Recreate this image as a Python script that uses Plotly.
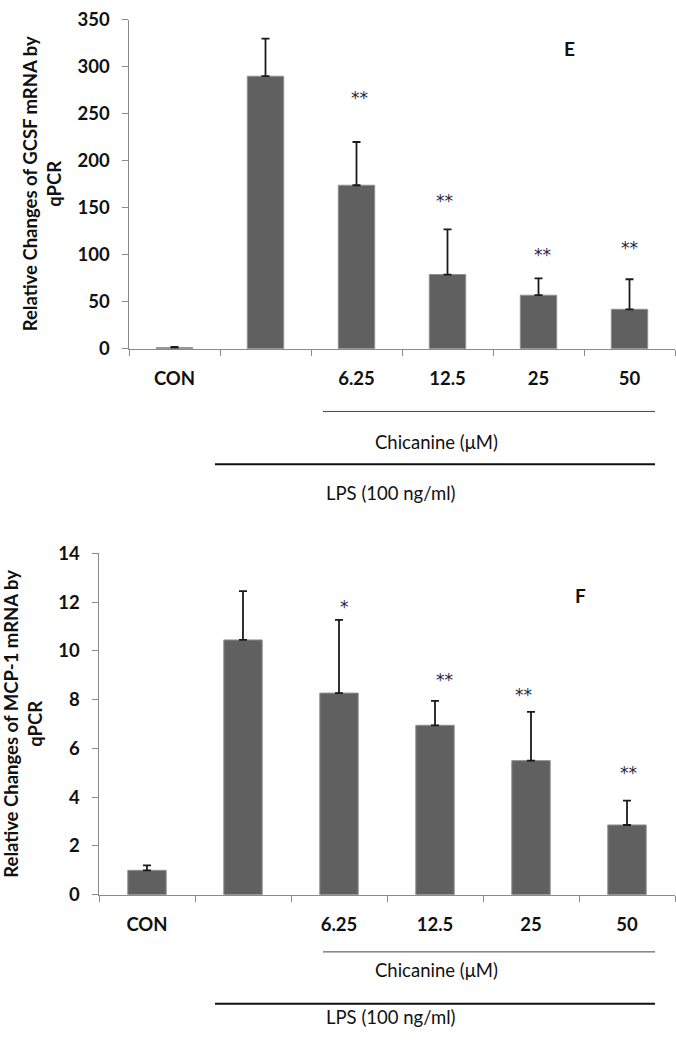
import plotly.graph_objects as go

# ---------------- data ----------------
categories = ["CON", "LPS", "6.25", "12.5", "25", "50"]
tick_labels = ["CON", "", "6.25", "12.5", "25", "50"]

gcsf_values = [1.2, 290, 174, 79, 57, 42]
gcsf_errors = [0.8, 40, 46, 48, 18, 32]
gcsf_stars = ["", "", "**", "**", "**", "**"]
gcsf_star_y = [None, None, 272, 163, 105, 113]

mcp1_values = [1.0, 10.45, 8.27, 6.95, 5.5, 2.86]
mcp1_errors = [0.2, 2.0, 3.0, 1.0, 2.0, 1.0]
mcp1_stars = ["", "", "*", "**", "**", "**"]
mcp1_star_y = [None, None, 12.0, 9.0, 8.4, 5.2]

# ---------------- style ----------------
W, H = 676, 1050
FONT = "Lato"
BAR_FILL = "#606060"
BAR_EDGE = "#8f8f8f"
AXIS = "#8a8a8a"
STAR = "#26263f"
TICK_SIZE = 18.5
TEXT_SIZE = 18.5

def px(x):
    return x / W

def py(y):
    return 1 - y / H

fig = go.Figure()

for vals, errs, xa, ya in [
    (gcsf_values, gcsf_errors, "x", "y"),
    (mcp1_values, mcp1_errors, "x2", "y2"),
]:
    fig.add_trace(go.Bar(
        x=categories, y=vals, xaxis=xa, yaxis=ya,
        marker=dict(color=BAR_FILL, line=dict(color=BAR_EDGE, width=1)),
        error_y=dict(type="data", array=errs, symmetric=False,
                     arrayminus=[0] * len(errs),
                     color="#1a1a1a", thickness=1.8, width=4),
        showlegend=False, hoverinfo="x+y",
    ))

xcommon = dict(
    type="category", categoryorder="array", categoryarray=categories,
    range=[-0.5, len(categories) - 0.5], autorange=False,
    tickmode="array", tickvals=categories, ticktext=tick_labels,
    tickson="boundaries", ticks="outside", ticklen=6, tickcolor=AXIS,
    showline=True, linecolor=AXIS, linewidth=1.5, showgrid=False,
    zeroline=False, tickangle=0,
    tickfont=dict(family=FONT, size=TICK_SIZE, color="#111", weight="bold"),
    ticklabelstandoff=13, fixedrange=True,
)
ycommon = dict(
    ticks="outside", ticklen=6, tickcolor=AXIS, showline=True,
    linecolor=AXIS, linewidth=1.5, showgrid=False, zeroline=False,
    tickfont=dict(family=FONT, size=TICK_SIZE, color="#111", weight="bold"),
    ticklabelstandoff=8, fixedrange=True, autorange=False,
)

fig.update_layout(
    width=W, height=H,
    margin=dict(l=0, r=0, t=0, b=0),
    paper_bgcolor="white", plot_bgcolor="white",
    bargap=0.6,
    font=dict(family=FONT, color="#111"),
    xaxis=dict(domain=[px(129), px(675)], anchor="y", **xcommon),
    yaxis=dict(domain=[py(344), py(8)], anchor="x", range=[0, 350],
               dtick=50, **ycommon),
    xaxis2=dict(domain=[px(99), px(675)], anchor="y2", **xcommon),
    yaxis2=dict(domain=[py(901.6), py(553)], anchor="x2", range=[0, 14],
                dtick=2, **ycommon),
)

annotations = []
# significance stars (x given as category index)
for stars, sy, xa, ya, xs in [
    (gcsf_stars, gcsf_star_y, "x", "y", [0, 0, 3, -3, 4, 0]),
    (mcp1_stars, mcp1_star_y, "x2", "y2", [0, 0, 5, 9, -8, 1]),
]:
    for i, (s, yv, sh) in enumerate(zip(stars, sy, xs)):
        if s and yv is not None:
            annotations.append(dict(
                x=i, y=yv, xref=xa, yref=ya, text=s, showarrow=False,
                xshift=sh, yshift=-5,
                font=dict(family="DejaVu Sans", size=17, color=STAR),
            ))

# y-axis titles
annotations.append(dict(
    x=px(42), y=py(176), xref="paper", yref="paper", textangle=-90,
    text="Relative Changes of GCSF mRNA by<br>qPCR", showarrow=False,
    font=dict(family=FONT, size=TEXT_SIZE, color="#111", weight="bold"),
    xanchor="center", yanchor="middle",
))
annotations.append(dict(
    x=px(23), y=py(727), xref="paper", yref="paper", textangle=-90,
    text="Relative Changes of MCP-1 mRNA by<br>qPCR", showarrow=False,
    font=dict(family=FONT, size=TEXT_SIZE, color="#111", weight="bold"),
    xanchor="center", yanchor="middle",
))
# panel letters
annotations.append(dict(x=px(577), y=py(23), xref="paper", yref="paper",
                        text="<b>E</b>", showarrow=False,
                        font=dict(family=FONT, size=19, color="#111")))
annotations.append(dict(x=px(588), y=py(596), xref="paper", yref="paper",
                        text="<b>F</b>", showarrow=False,
                        font=dict(family=FONT, size=19, color="#111")))

shapes = []
for chic_line_y, chic_text_y, lps_line_y, lps_text_y in [
    (408, 439, 462, 491),
    (960, 992, 1013, 1040),
]:
    shapes.append(dict(type="line", xref="paper", yref="paper",
                       x0=px(323), x1=px(655), y0=py(chic_line_y), y1=py(chic_line_y),
                       line=dict(color="#444", width=1)))
    shapes.append(dict(type="line", xref="paper", yref="paper",
                       x0=px(215), x1=px(655), y0=py(lps_line_y), y1=py(lps_line_y),
                       line=dict(color="#111", width=2)))
    annotations.append(dict(x=px(500), y=py(chic_text_y), xref="paper", yref="paper",
                            text="Chicanine (μM)", showarrow=False,
                            font=dict(family=FONT, size=TEXT_SIZE, color="#111")))
    annotations.append(dict(x=px(391), y=py(lps_text_y), xref="paper", yref="paper",
                            text="LPS (100 ng/ml)", showarrow=False,
                            font=dict(family=FONT, size=TEXT_SIZE, color="#111")))

fig.update_layout(annotations=annotations, shapes=shapes)

fig.write_html(
    "out.html",
    config={"displayModeBar": False, "staticPlot": True},
    post_script="document.body.style.margin='0';document.body.style.overflow='hidden';",
)
